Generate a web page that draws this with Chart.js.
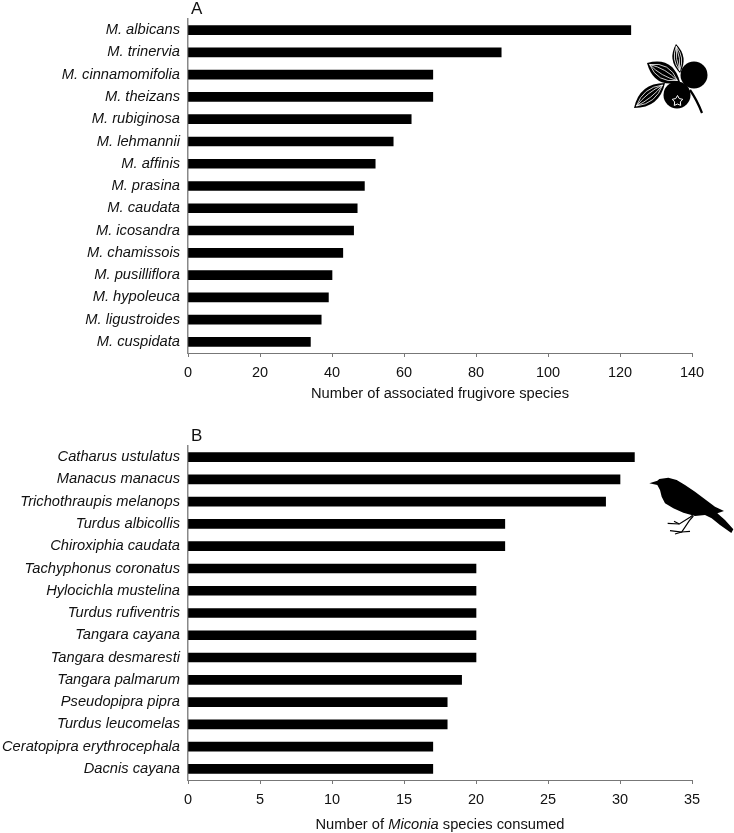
<!DOCTYPE html>
<html>
<head>
<meta charset="utf-8">
<script src="https://cdn.jsdelivr.net/npm/chart.js@4"></script>
<style>
  html, body { margin: 0; padding: 0; background: #fff; }
  #wrap { position: relative; width: 734px; height: 833px; overflow: hidden; }
  canvas { position: absolute; left: 0; }
</style>
</head>
<body>
<div id="wrap">
  <canvas id="chartA" width="734" height="402" style="top:0"></canvas>
  <canvas id="chartB" width="734" height="406" style="top:427px"></canvas>
</div>
<script>
var FONT = "'Liberation Sans', Arial, sans-serif";

var plantNames = ["M. albicans", "M. trinervia", "M. cinnamomifolia", "M. theizans", "M. rubiginosa",
  "M. lehmannii", "M. affinis", "M. prasina", "M. caudata", "M. icosandra",
  "M. chamissois", "M. pusilliflora", "M. hypoleuca", "M. ligustroides", "M. cuspidata"];
var plantValues = [123, 87, 68, 68, 62, 57, 52, 49, 47, 46, 43, 40, 39, 37, 34];

var birdNames = ["Catharus ustulatus", "Manacus manacus", "Trichothraupis melanops", "Turdus albicollis",
  "Chiroxiphia caudata", "Tachyphonus coronatus", "Hylocichla mustelina", "Turdus rufiventris",
  "Tangara cayana", "Tangara desmaresti", "Tangara palmarum", "Pseudopipra pipra",
  "Turdus leucomelas", "Ceratopipra erythrocephala", "Dacnis cayana"];
var birdValues = [31, 30, 29, 22, 22, 20, 20, 20, 20, 20, 19, 18, 18, 17, 17];

var titleA = [["Number of associated frugivore species", false]];
var titleB = [["Number of ", false], ["Miconia", true], [" species consumed", false]];

// panel letter and mixed-style axis title
function textPlugin(letter, runs) {
  return {
    id: "panelText",
    afterDraw: function (chart) {
      var ctx = chart.ctx, area = chart.chartArea;
      ctx.save();
      ctx.fillStyle = "#111";
      ctx.textBaseline = "middle";
      ctx.textAlign = "left";
      ctx.font = "17px " + FONT;
      ctx.fillText(letter, area.left + 3, area.top - 10);
      var total = 0;
      runs.forEach(function (r) {
        ctx.font = (r[1] ? "italic " : "") + "14.7px " + FONT;
        total += ctx.measureText(r[0]).width;
      });
      var x = (area.left + area.right) / 2 - total / 2;
      runs.forEach(function (r) {
        ctx.font = (r[1] ? "italic " : "") + "14.7px " + FONT;
        ctx.fillText(r[0], x, chart.height - 8);
        x += ctx.measureText(r[0]).width;
      });
      ctx.restore();
    }
  };
}

function leaf(ctx, x1, y1, x2, y2, w) {
  var mx = (x1 + x2) / 2, my = (y1 + y2) / 2;
  var dx = x2 - x1, dy = y2 - y1, len = Math.sqrt(dx * dx + dy * dy);
  var nx = -dy / len, ny = dx / len;
  ctx.fillStyle = "#000";
  ctx.beginPath();
  ctx.moveTo(x1, y1);
  ctx.quadraticCurveTo(mx + nx * w, my + ny * w, x2, y2);
  ctx.quadraticCurveTo(mx - nx * w, my - ny * w, x1, y1);
  ctx.fill();
  ctx.strokeStyle = "#fff";
  ctx.lineWidth = 0.8;
  [-0.65, -0.25, 0.25, 0.65].forEach(function (f) {
    ctx.beginPath();
    ctx.moveTo(x1 + dx * 0.08, y1 + dy * 0.08);
    ctx.quadraticCurveTo(mx + nx * w * f, my + ny * w * f, x2 - dx * 0.08, y2 - dy * 0.08);
    ctx.stroke();
  });
}

var berryIcon = {
  id: "berryIcon",
  afterDraw: function (chart) {
    var ctx = chart.ctx;
    ctx.save();
    leaf(ctx, 676, 44, 680, 73, 11);
    leaf(ctx, 647, 63, 680, 82, 19);
    leaf(ctx, 634, 108, 665, 83, 16);
    ctx.fillStyle = "#000";
    ctx.beginPath(); ctx.arc(694, 75, 13.5, 0, Math.PI * 2); ctx.fill();
    ctx.beginPath(); ctx.arc(677, 95, 13.5, 0, Math.PI * 2); ctx.fill();
    ctx.strokeStyle = "#000";
    ctx.lineWidth = 2.2;
    ctx.beginPath();
    ctx.moveTo(690, 90);
    ctx.quadraticCurveTo(697, 100, 702, 113);
    ctx.stroke();
    ctx.strokeStyle = "#fff";
    ctx.lineWidth = 1;
    ctx.beginPath();
    for (var i = 0; i < 10; i++) {
      var r = i % 2 ? 3 : 5.5, a = -Math.PI / 2 + i * Math.PI / 5;
      var px = 677.5 + r * Math.cos(a), py = 101 + r * Math.sin(a);
      if (i) ctx.lineTo(px, py); else ctx.moveTo(px, py);
    }
    ctx.closePath();
    ctx.stroke();
    ctx.restore();
  }
};

var birdBody = [[58, 70], [82, 62], [88, 57], [115, 53], [140, 60], [165, 75], [195, 95], [215, 110],
  [235, 125], [255, 140], [282, 153], [262, 160], [285, 180], [310, 208], [304, 219], [270, 195],
  [245, 175], [225, 165], [195, 168], [160, 158], [130, 145], [105, 130], [95, 110], [90, 90], [82, 75]];
var birdLegs = [[[188, 166], [180, 172], [148, 192], [113, 190]], [[148, 192], [132, 184]],
  [[190, 168], [178, 182], [155, 216], [120, 212]], [[155, 216], [135, 222]], [[155, 216], [180, 214]]];

var birdIcon = {
  id: "birdIcon",
  afterDraw: function (chart) {
    var ctx = chart.ctx;
    function px(p) { return [630 + p[0] / 3, 460 - 427 + p[1] / 3]; }
    ctx.save();
    ctx.fillStyle = "#000";
    ctx.beginPath();
    birdBody.forEach(function (p, i) {
      var q = px(p);
      if (i) ctx.lineTo(q[0], q[1]); else ctx.moveTo(q[0], q[1]);
    });
    ctx.closePath();
    ctx.fill();
    ctx.strokeStyle = "#000";
    ctx.lineWidth = 1.2;
    birdLegs.forEach(function (leg) {
      ctx.beginPath();
      leg.forEach(function (p, i) {
        var q = px(p);
        if (i) ctx.lineTo(q[0], q[1]); else ctx.moveTo(q[0], q[1]);
      });
      ctx.stroke();
    });
    ctx.restore();
  }
};

function makeChart(id, names, values, xMax, step, xHeight, plugins) {
  return new Chart(document.getElementById(id).getContext("2d"), {
    type: "bar",
    data: {
      labels: names,
      datasets: [{ data: values, backgroundColor: "#000", barThickness: 9 }]
    },
    plugins: plugins,
    options: {
      indexAxis: "y",
      responsive: false,
      animation: false,
      layout: { padding: { top: 19, right: 42, left: 0, bottom: 0 } },
      plugins: { legend: { display: false }, tooltip: { enabled: false } },
      scales: {
        x: {
          min: 0,
          max: xMax,
          afterFit: function (s) { s.height = xHeight; },
          border: { color: "#777", width: 1 },
          grid: { drawOnChartArea: false, drawTicks: true, tickLength: 4, color: "#777" },
          ticks: { stepSize: step, maxRotation: 0, padding: 7, color: "#111", font: { family: FONT, size: 14.5 } }
        },
        y: {
          afterFit: function (s) { s.width = 188; },
          border: { color: "#888", width: 1.5 },
          grid: { display: false, drawTicks: false },
          ticks: { autoSkip: false, padding: 8, color: "#111", font: { family: FONT, size: 14.7, style: "italic" } }
        }
      }
    }
  });
}

makeChart("chartA", plantNames, plantValues, 140, 20, 49, [textPlugin("A", titleA), berryIcon]);
makeChart("chartB", birdNames, birdValues, 35, 5, 53, [textPlugin("B", titleB), birdIcon]);
</script>
</body>
</html>
